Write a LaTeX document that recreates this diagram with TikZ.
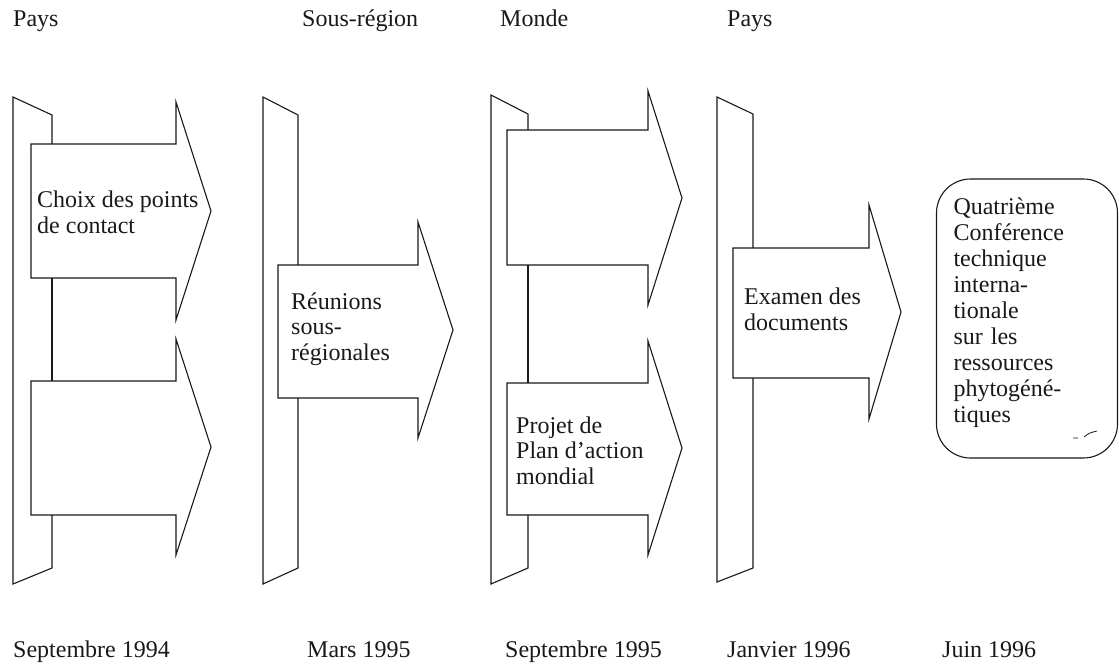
\documentclass[tikz,border=0pt]{standalone}
\usepackage{fontspec}
\setmainfont{Liberation Serif}
\usepackage{tikz}
\usepackage{xcolor}
\definecolor{scanblack}{RGB}{25,25,25}
\tikzstyle{outline} = [draw=scanblack, line width=1.1pt, line join=miter]
\tikzstyle{phase} = [anchor=base west, inner sep=0pt, text=scanblack]
% base of a multi-line node sits on its last line
\tikzstyle{arrowtext} = [anchor=base west, inner sep=0pt, align=left, text=scanblack]
\tikzstyle{confbox} = [rectangle, rounded corners=34pt, draw=scanblack, line width=1.1pt, minimum width=181pt, text width=147pt, inner xsep=17pt, inner ysep=0pt, text height=35pt, text depth=244pt, align=left, text=scanblack, font=\fontsize{24}{26}\selectfont]

\begin{document}
\begin{tikzpicture}[x=1pt, y=-1pt, every node/.style={font=\fontsize{24}{25.5}\selectfont}]
\useasboundingbox (0,0) rectangle (1119,664);

% Top labels
\node[phase] (pays1) at (13,26) {Pays};
\node[phase] (sousregion) at (302,26) {Sous-région};
\node[phase] (monde) at (500,26) {Monde};
\node[phase] (pays2) at (727,26) {Pays};

% Column 1: Pays
\draw[outline] (52,144) -- (52,115) -- (13,97) -- (13,584) -- (52,568) -- (52,515);
\draw[outline] (52,278) -- (52,381);
\draw[outline] (31,144) -- (176,144) -- (176,102) -- (211,211) -- (176,320) -- (176,278) -- (31,278) -- cycle;
\draw[outline] (31,381) -- (176,381) -- (176,339) -- (211,447) -- (176,555) -- (176,515) -- (31,515) -- cycle;
\node[arrowtext] (choix) at (37,233) {Choix des points\\de contact};

% Column 2: Sous-region
\draw[outline] (298,265) -- (298,115) -- (263,97) -- (263,584) -- (298,568) -- (298,398);
\draw[outline] (278,265) -- (418,265) -- (418,222) -- (453,330) -- (418,438) -- (418,398) -- (278,398) -- cycle;
\node[arrowtext] (reunions) at (291,360) {Réunions\\sous-\\régionales};

% Column 3: Monde
\draw[outline] (528,130) -- (528,114) -- (491,95) -- (491,584) -- (528,568) -- (528,515);
\draw[outline] (528,265) -- (528,383);
\draw[outline] (507,130) -- (648,130) -- (648,91) -- (682,198) -- (648,305) -- (648,265) -- (507,265) -- cycle;
\draw[outline] (507,383) -- (648,383) -- (648,341) -- (682,448) -- (648,555) -- (648,515) -- (507,515) -- cycle;
\node[arrowtext] (projet) at (516,484) {Projet de\\Plan d’action\\mondial};

% Column 4: Pays
\draw[outline] (753,248) -- (753,114) -- (717,97) -- (717,582) -- (753,568) -- (753,378);
\draw[outline] (733,248) -- (869,248) -- (869,205) -- (901,312) -- (869,419) -- (869,378) -- (733,378) -- cycle;
\node[arrowtext] (examen) at (744,330) {Examen des\\documents};

% Conference
\node[confbox, anchor=base] (conf) at (1027,214) {Quatrième\\Conférence\\technique\\interna-\\tionale\\sur les\\ressources\\phytogéné-\\tiques};
\draw[outline, line width=0.8pt] (1073,438) -- (1078,438) (1084,437) .. controls (1089,433) .. (1097,431);

% Dates
\node[phase] (sep94) at (13,657) {Septembre 1994};
\node[phase] (mar95) at (307,657) {Mars 1995};
\node[phase] (sep95) at (505,657) {Septembre 1995};
\node[phase] (jan96) at (727,657) {Janvier 1996};
\node[phase] (jun96) at (942,657) {Juin 1996};
\end{tikzpicture}
\end{document}
